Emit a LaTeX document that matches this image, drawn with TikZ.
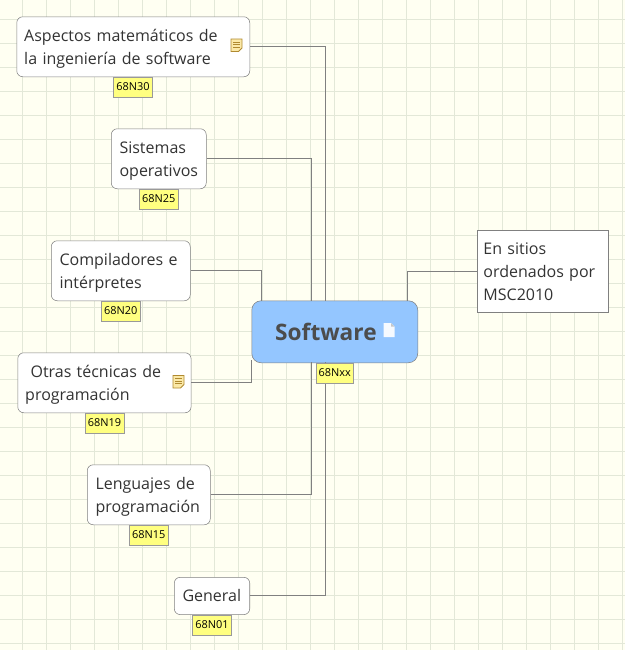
\documentclass[tikz,border=0pt]{standalone}
\usepackage{fontspec}
\setmainfont{Open Sans}
\usepackage{xcolor}
\usetikzlibrary{positioning}
\definecolor{paper}{HTML}{FFFFF2}
\definecolor{gridcol}{HTML}{E3E8D8}
\definecolor{linecol}{HTML}{808080}
\definecolor{inkcol}{HTML}{333333}
\definecolor{swblue}{HTML}{94C6FF}
\definecolor{tagyellow}{HTML}{FFFF80}
\definecolor{notefill}{HTML}{FBE9A8}
\definecolor{notedraw}{HTML}{B08A30}

\begin{document}
\begin{tikzpicture}[x=0.75pt,y=-0.75pt,font=\fontsize{12}{17.25}\selectfont,text=inkcol,
  topic/.style={draw=linecol,rounded corners=4.5pt,fill=white,align=left,anchor=north west,inner xsep=6.2pt,inner ysep=0pt,minimum height=28pt},
  twoline/.style={topic,minimum height=45pt,execute at begin node={\rule{0pt}{12.5pt}}},
  root/.style={draw=linecol,rounded corners=7pt,fill=swblue,anchor=north west,minimum width=124.5pt,minimum height=46.5pt,inner sep=0pt},
  plain/.style={draw=linecol,fill=white,align=left,anchor=north west,inner xsep=5pt,inner ysep=0pt,minimum height=62pt,execute at begin node={\rule{0pt}{9pt}}},
  tag/.style={draw=linecol!80,fill=tagyellow,text=black,font=\fontsize{8.2}{10}\selectfont,minimum width=29pt,minimum height=15pt,inner sep=0pt,text height=6.6pt,text depth=2.2pt},
  link/.style={draw=linecol,line width=0.75pt},
  noteicon/.pic={
    \draw[draw=notedraw,fill=notefill,line width=0.7pt] (-5.5,-6)--(5.5,-6)--(5.5,3)--(2,6.5)--(-5.5,6.5)--cycle;
    \foreach \yy in {-3,-0.5,2}
      \draw[draw=notedraw,line width=0.5pt] (-3.5,\yy)--(3.5,\yy);
  },
  pageicon/.pic={
    \fill[white!92!swblue] (-5.5,-7)--(2,-7)--(5.5,-3.5)--(5.5,7)--(-5.5,7)--cycle;
    \fill[black!22] (2,-7)--(5.5,-3.5)--(2,-3.5)--cycle;
  }]
  \useasboundingbox (0,0) rectangle (625,650);
  \fill[paper] (0,0) rectangle (625,650);
  \foreach \xx in {0,...,25}
    \draw[gridcol,line width=0.75pt] (22.5+24*\xx,0)--(22.5+24*\xx,650);
  \foreach \yy in {0,...,26}
    \draw[gridcol,line width=0.75pt] (0,19.5+24*\yy)--(625,19.5+24*\yy);
  % boxes
  \node[root] (software) at (251.5,300.5) {};
  \node[font=\fontsize{17}{20}\selectfont\bfseries,text=black!70,anchor=base west] (swtext) at (270.5,340.5) {Software};
  \node[twoline,inner xsep=5.6pt,text width=163.55pt] (aspectos) at (16.5,16.5) {Aspectos matemáticos de\\la ingeniería de software};
  \node[twoline,text width=58.85pt] (sistemas) at (111,128.5) {Sistemas\\operativos};
  \node[twoline,text width=91.85pt] (compiladores) at (51,240.5) {Compiladores e\\intérpretes};
  \node[twoline,inner xsep=5.6pt,text width=118.8pt] (otras) at (17.5,352.5) {\hspace*{4pt}Otras técnicas de\\programación};
  \node[twoline,text width=79.85pt] (lenguajes) at (87,464.5) {Lenguajes de\\programación};
  \node[topic,text width=44.2pt] (general) at (174,577) {General};
  \node[plain,text width=88.6pt] (sitios) at (476.5,229.5) {En sitios\\ordenados por\\MSC2010};
  % where the branches meet the root
  \coordinate (inA) at (325,300.5);
  \coordinate (inB) at (311,300.5);
  \coordinate (inC) at (261.5,300.5);
  \coordinate (inD) at (251.5,360);
  \coordinate (inE) at (407,300.5);
  \coordinate (inF) at (311,362);
  \coordinate (inG) at (325,362);
  \draw[link] (aspectos.east)-|(inA);
  \draw[link] (sistemas.east)-|(inB);
  \draw[link] (compiladores.east)-|(inC);
  \draw[link] (otras.east)-|(inD);
  \draw[link] (sitios.west)-|(inE);
  \draw[link] (lenguajes.east)-|(inF);
  \draw[link] (general.east)-|(inG);
  % icons
  \pic at (236.5,45) {noteicon};
  \pic at (178.5,381.5) {noteicon};
  \pic at (389,330) {pageicon};
  % tags
  \node[tag,below=0pt of aspectos,xshift=-0.2pt] (t30) {68N30};
  \node[tag,below=0pt of sistemas] (t25) {68N25};
  \node[tag,below=0pt of compiladores] (t20) {68N20};
  \node[tag,below=0pt of otras] (t19) {68N19};
  \node[tag,below=0pt of lenguajes] (t15) {68N15};
  \node[tag,below=0pt of general] (t01) {68N01};
  \node[tag,below=0pt of software,minimum width=27.5pt] (txx) {68Nxx};
\end{tikzpicture}
\end{document}
